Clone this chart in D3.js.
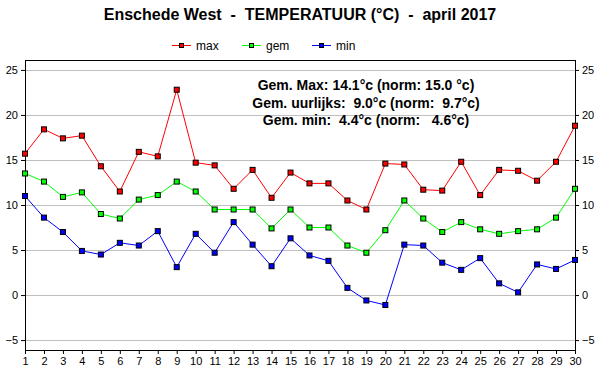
<!DOCTYPE html>
<html>
<head>
<meta charset="utf-8">
<script src="https://d3js.org/d3.v7.min.js"></script>
<style>
  body { margin: 0; background: #fff; }
  svg text { font-family: Arial, "Liberation Sans", sans-serif; }
</style>
</head>
<body>
<div id="chart"></div>
<script>
// Data
const days = d3.range(1, 31);
const maxTemps = [15.7, 18.4, 17.4, 17.7, 14.3, 11.5, 15.9, 15.4, 22.8, 14.7,
                  14.4, 11.8, 13.9, 10.8, 13.6, 12.4, 12.4, 10.5, 9.5, 14.6,
                  14.5, 11.7, 11.6, 14.8, 11.1, 13.9, 13.8, 12.7, 14.8, 18.8];
const gemTemps = [13.5, 12.6, 10.9, 11.4, 9.0, 8.5, 10.6, 11.1, 12.6, 11.5,
                  9.5, 9.5, 9.5, 7.4, 9.5, 7.5, 7.5, 5.5, 4.7, 7.2,
                  10.5, 8.5, 7.0, 8.1, 7.3, 6.8, 7.1, 7.3, 8.6, 11.8];
const minTemps = [11.0, 8.6, 7.0, 4.9, 4.5, 5.8, 5.5, 7.1, 3.1, 6.8,
                  4.7, 8.1, 5.6, 3.2, 6.3, 4.4, 3.8, 0.8, -0.6, -1.1,
                  5.6, 5.5, 3.6, 2.8, 4.1, 1.3, 0.3, 3.4, 2.9, 3.9];
const yTicks = [-5, 0, 5, 10, 15, 20, 25];
const summaryLines = [
  "Gem. Max: 14.1°c (norm: 15.0 °c)",
  "Gem. uurlijks:  9.0°c (norm:  9.7°c)",
  "Gem. min:  4.4°c (norm:   4.6°c)"
];
const series = [
  { name: "max", values: maxTemps, color: "#ff0000" },
  { name: "gem", values: gemTemps, color: "#00ff00" },
  { name: "min", values: minTemps, color: "#0000ff" }
];

const width = 600, height = 390;
const margin = { top: 60, right: 25, bottom: 40, left: 25 };

const svg = d3.select("#chart").append("svg")
  .attr("width", width)
  .attr("height", height);

const x = d3.scaleLinear()
  .domain([1, 30])
  .range([margin.left, width - margin.right]);

const y = d3.scaleLinear()
  .domain([-6.1, 26.1])
  .range([height - margin.bottom, margin.top]);

// Title
svg.append("text")
  .attr("x", 300)
  .attr("y", 20)
  .attr("text-anchor", "middle")
  .attr("font-size", 16)
  .attr("font-weight", "bold")
  .style("white-space", "pre")
  .text("Enschede West  -  TEMPERATUUR (°C)  -  april 2017");

// Legend
const legend = svg.append("g");
series.forEach((s, i) => {
  const lx = 172 + i * 70;
  legend.append("line")
    .attr("x1", lx).attr("x2", lx + 19)
    .attr("y1", 45.5).attr("y2", 45.5)
    .attr("stroke", s.color);
  legend.append("rect")
    .attr("x", lx + 7.5).attr("y", 43.5)
    .attr("width", 4).attr("height", 4)
    .attr("fill", s.color).attr("stroke", "#000");
  legend.append("text")
    .attr("x", lx + 24)
    .attr("y", 50)
    .attr("font-size", 12)
    .text(s.name);
});

// Gridlines
svg.append("g")
  .selectAll("line")
  .data(yTicks)
  .join("line")
  .attr("x1", margin.left).attr("x2", width - margin.right)
  .attr("y1", d => Math.round(y(d)) + 0.5)
  .attr("y2", d => Math.round(y(d)) + 0.5)
  .attr("stroke", "#c0c0c0");

// Axes
const axisFont = g => g.selectAll("text").attr("font-size", 11).attr("fill", "#000");

svg.append("g")
  .attr("transform", `translate(${margin.left},0)`)
  .call(d3.axisLeft(y).tickValues(yTicks).tickSize(4).tickPadding(3))
  .call(axisFont)
  .call(g => g.select(".domain").remove());

svg.append("g")
  .attr("transform", `translate(${width - margin.right},0)`)
  .call(d3.axisRight(y).tickValues(yTicks).tickSize(4).tickPadding(3))
  .call(axisFont)
  .call(g => g.select(".domain").remove());

svg.append("g")
  .attr("transform", `translate(0,${height - margin.bottom})`)
  .call(d3.axisBottom(x).tickValues(days).tickFormat(d3.format("d")).tickSize(4).tickPadding(3))
  .call(axisFont)
  .call(g => g.select(".domain").remove());

// Frame
svg.append("rect")
  .attr("x", margin.left + 0.5)
  .attr("y", margin.top + 0.5)
  .attr("width", width - margin.left - margin.right)
  .attr("height", height - margin.top - margin.bottom)
  .attr("fill", "none")
  .attr("stroke", "#000");

// Summary text
svg.append("g")
  .selectAll("text")
  .data(summaryLines)
  .join("text")
  .attr("x", 366)
  .attr("y", (d, i) => 90 + i * 17.5)
  .attr("text-anchor", "middle")
  .attr("font-size", 14)
  .attr("font-weight", "bold")
  .style("white-space", "pre")
  .text(d => d);

// Lines and markers
const line = d3.line()
  .x((d, i) => x(days[i]))
  .y(d => y(d));

series.forEach(s => {
  svg.append("path")
    .datum(s.values)
    .attr("fill", "none")
    .attr("stroke", s.color)
    .attr("stroke-width", 1)
    .attr("d", line);

  svg.append("g")
    .selectAll("rect")
    .data(s.values)
    .join("rect")
    .attr("x", (d, i) => x(days[i]) - 2.5)
    .attr("y", d => y(d) - 2.5)
    .attr("width", 5)
    .attr("height", 5)
    .attr("fill", s.color)
    .attr("stroke", "#000")
    .attr("stroke-width", 1);
});
</script>
</body>
</html>
